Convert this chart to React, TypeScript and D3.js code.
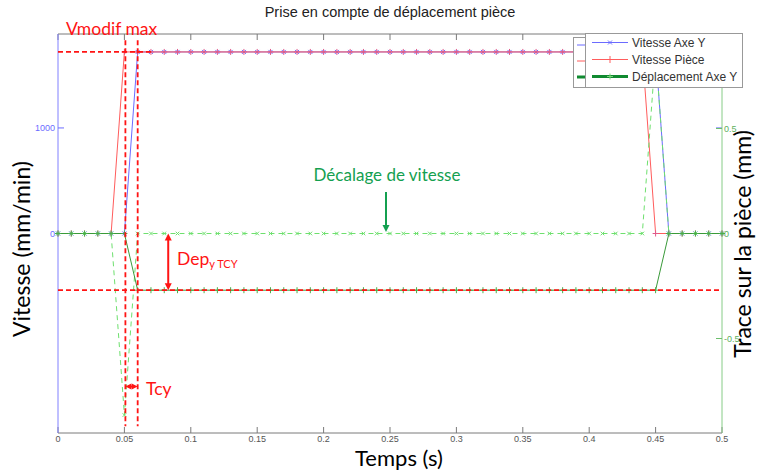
import React from 'react';
import * as d3 from 'd3';

// sampled every 0.01 s
const time = [
  0, 0.01, 0.02, 0.03, 0.04, 0.05, 0.06, 0.07, 0.08, 0.09,
  0.1, 0.11, 0.12, 0.13, 0.14, 0.15, 0.16, 0.17, 0.18, 0.19,
  0.2, 0.21, 0.22, 0.23, 0.24, 0.25, 0.26, 0.27, 0.28, 0.29,
  0.3, 0.31, 0.32, 0.33, 0.34, 0.35, 0.36, 0.37, 0.38, 0.39,
  0.4, 0.41, 0.42, 0.43, 0.44, 0.45, 0.46, 0.47, 0.48, 0.49,
  0.5,
];

const vitesseAxeY = [
  0, 0, 0, 0, 0, 0, 1720, 1720, 1720, 1720,
  1720, 1720, 1720, 1720, 1720, 1720, 1720, 1720, 1720, 1720,
  1720, 1720, 1720, 1720, 1720, 1720, 1720, 1720, 1720, 1720,
  1720, 1720, 1720, 1720, 1720, 1720, 1720, 1720, 1720, 1720,
  1720, 1720, 1720, 1720, 1720, 1720, 0, 0, 0, 0,
  0,
];

const vitessePiece = [
  0, 0, 0, 0, 0, 1720, 1720, 1720, 1720, 1720,
  1720, 1720, 1720, 1720, 1720, 1720, 1720, 1720, 1720, 1720,
  1720, 1720, 1720, 1720, 1720, 1720, 1720, 1720, 1720, 1720,
  1720, 1720, 1720, 1720, 1720, 1720, 1720, 1720, 1720, 1720,
  1720, 1720, 1720, 1720, 1720, 0, 0, 0, 0, 0,
  0,
];

// décalage de vitesse (axe - pièce), dashed
const decalage = [
  0, 0, 0, 0, 0, -1720, 0, 0, 0, 0,
  0, 0, 0, 0, 0, 0, 0, 0, 0, 0,
  0, 0, 0, 0, 0, 0, 0, 0, 0, 0,
  0, 0, 0, 0, 0, 0, 0, 0, 0, 0,
  0, 0, 0, 0, 0, 1720, 0, 0, 0, 0,
  0,
];

// right axis (mm)
const deplacementAxeY = [
  0, 0, 0, 0, 0, 0, -0.27, -0.27, -0.27, -0.27,
  -0.27, -0.27, -0.27, -0.27, -0.27, -0.27, -0.27, -0.27, -0.27, -0.27,
  -0.27, -0.27, -0.27, -0.27, -0.27, -0.27, -0.27, -0.27, -0.27, -0.27,
  -0.27, -0.27, -0.27, -0.27, -0.27, -0.27, -0.27, -0.27, -0.27, -0.27,
  -0.27, -0.27, -0.27, -0.27, -0.27, -0.27, 0, 0, 0, 0,
  0,
];

const xTicks = [0, 0.05, 0.1, 0.15, 0.2, 0.25, 0.3, 0.35, 0.4, 0.45, 0.5];
const leftTicks = [0, 1000];
const rightTicks = [-0.5, 0, 0.5];
const legendLabels = ['Vitesse Axe Y', 'Vitesse Pièce', 'Déplacement Axe Y'];

const vmodifMax = 1720;
const depTcy = -0.27;
const tStart = 0.05;
const tEnd = 0.06;

const W = 758;
const H = 472;

const BLUE = '#6b6bff';
const RED = '#ff5c5c';
const GREEN = '#3a9a3a';
const LIGHTGREEN = '#6ee06e';
const ANNOT_RED = '#ff1414';
const ANNOT_GREEN = '#14a050';
const GRAY = '#7a7a7a';
const SANS = "Lato, 'Open Sans', sans-serif";

const x = d3.scaleLinear().domain([0, 0.5]).range([58, 722]);
const yL = d3.scaleLinear().domain([-1890, 1890]).range([433, 34]);
const yR = d3.scaleLinear().domain([-0.95, 0.95]).range([433, 34]);

type Pt = [number, number];

const seriesL = (vals: number[]): Pt[] => time.map((t, i) => [x(t), yL(vals[i])]);
const seriesR = (vals: number[]): Pt[] => time.map((t, i) => [x(t), yR(vals[i])]);

const line = d3.line<Pt>().x(d => d[0]).y(d => d[1]);

const plus = (cx: number, cy: number, s: number) =>
  `M${cx - s},${cy}H${cx + s}M${cx},${cy - s}V${cy + s}`;
const cross = (cx: number, cy: number, s: number) =>
  `M${cx - s},${cy - s}L${cx + s},${cy + s}M${cx - s},${cy + s}L${cx + s},${cy - s}`;

const Markers: React.FC<{ pts: Pt[]; kind: 'plus' | 'cross'; s: number; color: string }> = ({ pts, kind, s, color }) => (
  <path
    d={pts.map(p => (kind === 'plus' ? plus(p[0], p[1], s) : cross(p[0], p[1], s))).join('')}
    stroke={color}
    strokeWidth={1}
    fill="none"
  />
);

// arrow head pointing to (tx,ty) from direction (dx,dy)
const head = (tx: number, ty: number, dx: number, dy: number, len: number, half: number) => {
  const n = Math.hypot(dx, dy);
  const ux = dx / n, uy = dy / n;
  const bx = tx - ux * len, by = ty - uy * len;
  return `${tx},${ty} ${bx - uy * half},${by + ux * half} ${bx + uy * half},${by - ux * half}`;
};

const App: React.FC = () => {
  const axePts = seriesL(vitesseAxeY);
  const piecePts = seriesL(vitessePiece);
  const decPts = seriesL(decalage);
  const depPts = seriesR(deplacementAxeY);

  const x0 = x(0), x1 = x(0.5);
  const yTop = yL.range()[1], yBot = yL.range()[0];

  const depArrowX = x(0.083);
  const depY0 = yR(0), depY1 = yR(depTcy);
  const tcyY = yL(-1450);
  const decX = x(0.247);

  return (
    <svg width={W} height={H} style={{ position: 'absolute', left: 0, top: 0, background: '#fff' }}
      fontFamily="'Liberation Sans', Arial, sans-serif">
      <rect width={W} height={H} fill="#fff" />

      {/* title */}
      <text x={390} y={17} textAnchor="middle" fontSize={14.5} fill="#222">
        Prise en compte de déplacement pièce
      </text>

      {/* box top / bottom */}
      <line x1={x0} x2={x1} y1={yTop} y2={yTop} stroke={GRAY} />
      <line x1={x0} x2={x1} y1={yBot} y2={yBot} stroke={GRAY} />
      {xTicks.map(t => (
        <g key={t}>
          <line x1={x(t)} x2={x(t)} y1={yBot} y2={yBot - 6} stroke={GRAY} />
          <line x1={x(t)} x2={x(t)} y1={yTop} y2={yTop + 6} stroke={GRAY} />
          <text x={x(t)} y={442} textAnchor="middle" fontSize={9} fill="#555">{t}</text>
        </g>
      ))}

      {/* left axis */}
      <line x1={x0} x2={x0} y1={yTop} y2={yBot} stroke="#8080ff" />
      {leftTicks.map(v => (
        <g key={v}>
          <line x1={x0} x2={x0 + 6} y1={yL(v)} y2={yL(v)} stroke="#6b6bff" />
          <line x1={x1} x2={x1 - 6} y1={yL(v)} y2={yL(v)} stroke="#6b6bff" />
          <text x={x0 - 3} y={yL(v) + 3} textAnchor="end" fontSize={9} fill="#6b6bff">{v}</text>
        </g>
      ))}

      {/* right axis */}
      <line x1={x1} x2={x1} y1={yTop} y2={yBot} stroke="#86cc86" />
      {rightTicks.map(v => (
        <g key={v}>
          <line x1={x1} x2={x1 - 6} y1={yR(v)} y2={yR(v)} stroke="#6cbf6c" />
          <text x={x1 + 2} y={yR(v) + 3} fontSize={9} fill="#5cb05c">{v}</text>
        </g>
      ))}

      {/* series */}
      <path d={line(axePts) || ''} stroke={BLUE} strokeWidth={1} fill="none" />
      <Markers pts={axePts} kind="cross" s={2} color={BLUE} />
      <path d={line(piecePts) || ''} stroke={RED} strokeWidth={1} fill="none" />
      <Markers pts={piecePts} kind="plus" s={3} color="#e05a8a" />
      <path d={line(decPts) || ''} stroke={LIGHTGREEN} strokeWidth={1} strokeDasharray="5,4" fill="none" />
      <Markers pts={decPts} kind="cross" s={1.8} color={LIGHTGREEN} />
      <path d={line(depPts) || ''} stroke={GREEN} strokeWidth={1} fill="none" />
      <Markers pts={depPts} kind="plus" s={3} color="#4aae4a" />

      {/* annotations */}
      <line x1={x0} x2={x(0.072)} y1={yL(vmodifMax)} y2={yL(vmodifMax)}
        stroke={ANNOT_RED} strokeWidth={1.8} strokeDasharray="5,3" />
      <line x1={x(tStart) + 1} x2={x(tStart) + 1} y1={yL(1830)} y2={yL(-1825)}
        stroke={ANNOT_RED} strokeWidth={1.8} strokeDasharray="5,3" />
      <line x1={x(tEnd)} x2={x(tEnd)} y1={yL(1830)} y2={yL(-1825)}
        stroke={ANNOT_RED} strokeWidth={1.8} strokeDasharray="5,3" />
      <line x1={x0} x2={x1} y1={yR(depTcy)} y2={yR(depTcy)}
        stroke={ANNOT_RED} strokeWidth={1.8} strokeDasharray="5,3" />

      <text x={66} y={35} fontFamily={SANS} fontSize={17.5} fill={ANNOT_RED}>Vmodif max</text>

      {/* Dep arrow */}
      <line x1={depArrowX} x2={depArrowX} y1={depY0 + 5} y2={depY1 - 5} stroke={ANNOT_RED} strokeWidth={2} />
      <polygon points={head(depArrowX, depY0, 0, -1, 7, 3.5)} fill={ANNOT_RED} />
      <polygon points={head(depArrowX, depY1, 0, 1, 7, 3.5)} fill={ANNOT_RED} />
      <text x={177} y={265} fontFamily={SANS} fontSize={17.5} fill={ANNOT_RED}>
        Dep<tspan fontSize={11} dy={3}>y TCY</tspan>
      </text>

      {/* Tcy arrow */}
      <line x1={x(tStart) + 4} x2={x(tEnd) - 3} y1={tcyY} y2={tcyY} stroke={ANNOT_RED} strokeWidth={2} />
      <polygon points={head(x(tStart) + 1, tcyY, -1, 0, 6, 3)} fill={ANNOT_RED} />
      <polygon points={head(x(tEnd), tcyY, 1, 0, 6, 3)} fill={ANNOT_RED} />
      <text x={146} y={395} fontFamily={SANS} fontSize={17.5} fill={ANNOT_RED}>Tcy</text>

      {/* Décalage */}
      <text x={387} y={181} textAnchor="middle" fontFamily={SANS} fontSize={17} fill={ANNOT_GREEN}>
        Décalage de vitesse
      </text>
      <line x1={decX} x2={decX} y1={192} y2={226} stroke={ANNOT_GREEN} strokeWidth={2} />
      <polygon points={head(decX, 232, 0, 1, 7, 3.5)} fill={ANNOT_GREEN} />

      {/* legends (two overlapping boxes) */}
      <rect x={573.5} y={37.5} width={60} height={50} fill="#fff" stroke="#999" />
      <line x1={577} x2={586} y1={45} y2={45} stroke={BLUE} />
      <line x1={577} x2={586} y1={61} y2={61} stroke={RED} />
      <line x1={577} x2={586} y1={77} y2={77} stroke="#108a30" strokeWidth={3} />
      <rect x={585.5} y={33.5} width={157} height={54} fill="#fff" stroke="#999" />
      {legendLabels.map((lab, i) => {
        const ly = 42.5 + i * 17;
        const col = i === 0 ? BLUE : i === 1 ? RED : '#108a30';
        return (
          <g key={lab}>
            <line x1={592} x2={628} y1={ly} y2={ly} stroke={col} strokeWidth={i === 2 ? 3 : 1} />
            {i === 0 && <path d={cross(610, ly, 2)} stroke={BLUE} />}
            {i === 1 && <path d={plus(610, ly, 3.5)} stroke={RED} />}
            {i === 2 && <path d={plus(610, ly, 3)} stroke="#7ad67a" />}
            <text x={632} y={ly + 4} fontSize={12} fill="#333">{lab}</text>
          </g>
        );
      })}

      {/* axis titles */}
      <text x={399} y={466} textAnchor="middle" fontFamily={SANS} fontSize={22} fill="#000">
        Temps (s)
      </text>
      <text transform="translate(30,249) rotate(-90)" textAnchor="middle"
        fontFamily={SANS} fontSize={23} fill="#000">
        Vitesse (mm/min)
      </text>
      <text transform="translate(751,244) rotate(-90)" textAnchor="middle"
        fontFamily={SANS} fontSize={23} fill="#000">
        Trace sur la pièce (mm)
      </text>
    </svg>
  );
};

export default App;
